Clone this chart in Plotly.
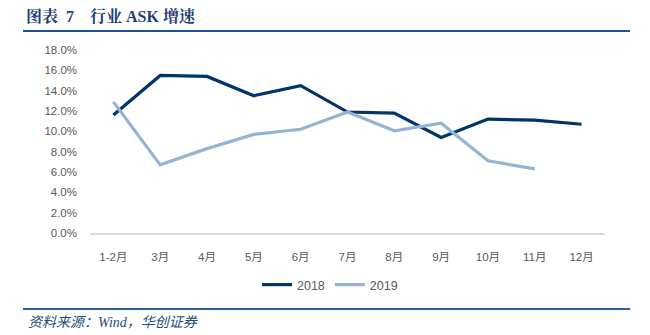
import plotly.graph_objects as go

W, H = 650, 335

months = ["1-2月", "3月", "4月", "5月", "6月", "7月", "8月", "9月", "10月", "11月", "12月"]
ask_2018 = [11.6, 15.5, 15.4, 13.5, 14.5, 11.9, 11.8, 9.4, 11.2, 11.1, 10.7]
ask_2019 = [12.9, 6.7, 8.3, 9.7, 10.2, 11.9, 10.05, 10.8, 7.1, 6.3]
y_ticks = [0, 2, 4, 6, 8, 10, 12, 14, 16, 18]

# plot area in pixels
x0, x1 = 90, 605
y_top, y_bot = 50, 233


def px(x):
    return x / W


def py(y):
    return 1 - y / H


fig = go.Figure()
fig.add_trace(go.Scatter(
    x=months, y=ask_2018, mode="lines", name="2018",
    line=dict(color="#00346B", width=3.2),
))
fig.add_trace(go.Scatter(
    x=months[:len(ask_2019)], y=ask_2019, mode="lines", name="2019",
    line=dict(color="#95B3D7", width=3.2),
))

tick_font = dict(family="Liberation Sans, Arial, Noto Sans CJK SC", size=11.5, color="#595959")

fig.update_layout(
    width=W, height=H, autosize=False,
    margin=dict(l=0, r=0, t=0, b=0),
    paper_bgcolor="white", plot_bgcolor="white",
    showlegend=True,
    legend=dict(
        orientation="h", x=px(330), y=py(285), xanchor="center", yanchor="middle",
        font=dict(family="Liberation Sans, Arial", size=12.5, color="#595959"),
        itemwidth=30, tracegroupgap=0, bgcolor="rgba(0,0,0,0)",
    ),
    xaxis=dict(
        domain=[px(x0), px(x1)], categoryorder="array", categoryarray=months,
        range=[-0.5, len(months) - 0.5],
        showgrid=False, zeroline=False, showline=True, linecolor="#D9D9D9", linewidth=1.5,
        ticks="", tickfont=tick_font, automargin=False, ticklabelstandoff=12,
    ),
    yaxis=dict(
        domain=[py(y_bot), py(y_top)], range=[0, 18],
        tickvals=y_ticks, ticktext=[f"{v:.1f}%" for v in y_ticks],
        showgrid=False, zeroline=False, showline=False,
        ticks="", tickfont=tick_font, automargin=False, ticklabelstandoff=12,
    ),
)

# header rule and footer rule
fig.add_shape(type="line", xref="paper", yref="paper",
              x0=px(23), x1=px(630), y0=py(31), y1=py(31),
              line=dict(color="#1F4E9A", width=2))
fig.add_shape(type="line", xref="paper", yref="paper",
              x0=px(23), x1=px(630), y0=py(309), y1=py(309),
              line=dict(color="#2F5F96", width=2.2))

fig.add_annotation(
    xref="paper", yref="paper", x=px(24), y=py(16), xanchor="left", yanchor="middle",
    text="<b>图表&nbsp;&nbsp;7&nbsp;&nbsp;&nbsp;&nbsp;行业&nbsp;ASK&nbsp;增速</b>", showarrow=False,
    font=dict(family="Liberation Serif, Noto Serif CJK SC, Noto Sans CJK SC", size=16, color="#1F3F7A"),
)
fig.add_annotation(
    xref="paper", yref="paper", x=px(26), y=py(322), xanchor="left", yanchor="middle",
    text="<i>资料来源：Wind，华创证券</i>", showarrow=False,
    font=dict(family="Liberation Serif, Noto Sans CJK SC", size=14, color="#1F4E79"),
)

fig.write_html("out.html")
